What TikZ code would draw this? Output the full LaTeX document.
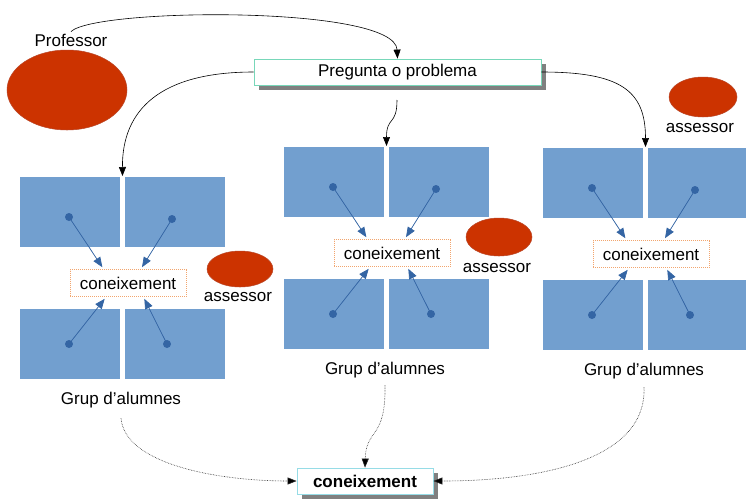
\documentclass[tikz,border=0pt]{standalone}
\usepackage{fontspec}
\setmainfont{Liberation Sans}
\usetikzlibrary{arrows.meta,shadows,calc,shapes.geometric}
\definecolor{bluefill}{RGB}{114,159,207}
\definecolor{bluedark}{RGB}{52,101,164}
\definecolor{redfill}{RGB}{204,51,0}
\definecolor{redline}{RGB}{185,70,40}
\definecolor{tealline}{RGB}{120,215,185}
\definecolor{cyanline}{RGB}{150,220,230}
\definecolor{orangeline}{RGB}{242,165,110}
\definecolor{shadowgray}{RGB}{128,128,128}
\tikzset{
  txt/.style={font=\fontsize{17}{20}\selectfont, inner sep=2pt},
  bluebox/.style={fill=bluefill, draw=none, anchor=north west, minimum width=100pt, minimum height=70pt, inner sep=0pt, outer sep=0pt},
  knowbox/.style={txt, draw=orangeline, dash pattern=on 1pt off 1pt, line width=0.6pt, fill=white, minimum width=116pt, minimum height=27pt, inner sep=0pt},
  dotnode/.style={circle, fill=bluedark, minimum size=8pt, inner sep=0pt},
  bluearrow/.style={draw=bluedark, line width=0.7pt, -{Triangle[length=10pt,width=8pt]}, fill=bluedark},
  blackarrow/.style={draw=black, line width=0.6pt, -{Triangle[length=9pt,width=7pt]}},
  dotarrow/.style={draw=black!85, line width=0.6pt, densely dotted, -{Triangle[length=9pt,width=7pt,fill=black]}},
  redell/.style={ellipse, fill=redfill, draw=redline, line width=0.5pt, inner sep=0pt},
  mainbox/.style={txt, fill=white, line width=0.8pt, drop shadow={shadow xshift=5pt, shadow yshift=-5pt, fill=shadowgray, opacity=1}},
}
\newcommand\studentgroup[3]{%
  \begin{scope}[shift={(#2,#3)}]
    \node[bluebox] (#1a) at (0,0) {};
    \node[bluebox] (#1b) at (105,0) {};
    \node[bluebox] (#1c) at (0,132) {};
    \node[bluebox] (#1d) at (105,132) {};
    \coordinate (#1in) at (102.5,-1);
    \node[knowbox] (#1k) at (108,106) {coneixement};
    \node[dotnode] (#1p) at (49,40) {};
    \node[dotnode] (#1q) at (152,42) {};
    \node[dotnode] (#1r) at (49,167) {};
    \node[dotnode] (#1s) at (147,167) {};
    \node[txt] (#1l) at (101,223) {Grup d’alumnes};
    \draw[bluearrow] (#1p.center) -- ($(#1k.north west)!0.28!(#1k.north east)+(0,-2)$);
    \draw[bluearrow] (#1q.center) -- ($(#1k.north west)!0.62!(#1k.north east)+(0,-2)$);
    \draw[bluearrow] (#1r.center) -- ($(#1k.south west)!0.30!(#1k.south east)+(0,2)$);
    \draw[bluearrow] (#1s.center) -- ($(#1k.south west)!0.64!(#1k.south east)+(0,2)$);
  \end{scope}}
\begin{document}
\begin{tikzpicture}[x=1pt,y=-1pt]
  \useasboundingbox (0,0) rectangle (746,499);
  \fill[white] (0,0) rectangle (746,499);

  % professor
  \node[redell, minimum width=120pt, minimum height=80pt] (prof) at (67,90) {};
  \node[txt] (proflabel) at (71,40) {Professor};

  % question box
  \node[mainbox, draw=tealline, minimum width=287pt, minimum height=26pt] (preg) at (397.5,72) {Pregunta o problema};

  % groups
  \studentgroup{L}{20}{177}
  \studentgroup{M}{284}{147}
  \studentgroup{R}{543}{148}

  % assessors
  \node[redell, minimum width=66pt, minimum height=36pt] (ass1) at (240,269) {};
  \node[txt] (ass1l) at (238,297) {assessor};
  \node[redell, minimum width=66pt, minimum height=38pt] (ass2) at (499,237) {};
  \node[txt] (ass2l) at (497,268) {assessor};
  \node[redell, minimum width=68pt, minimum height=40pt] (ass3) at (703,97) {};
  \node[txt] (ass3l) at (700,128) {assessor};

  % final knowledge box
  \node[mainbox, draw=cyanline, font=\fontsize{17}{20}\selectfont\bfseries, minimum width=136pt, minimum height=26pt] (final) at (365,481) {coneixement};

  % connectors
  \draw[blackarrow] (proflabel.north) .. controls (95,8) and (395,5) .. (preg.north);
  \draw[blackarrow] (preg.west) .. controls (160,72) and (122,110) .. (Lin);
  \coordinate (pregb) at (397,100);
  \draw[blackarrow] (pregb) .. controls (397,126) and (386.5,116) .. (Min);
  \draw[blackarrow] (preg.east) .. controls (620,72) and (645.5,90) .. (Rin);

  \coordinate (Lout) at ($(Ll.south)+(0,8)$);
  \coordinate (Mout) at ($(Ml.south)+(0,5)$);
  \coordinate (Rout) at ($(Rl.south)+(0,6)$);
  \draw[dotarrow] (Lout) .. controls (125,465) and (220,481) .. (final.west);
  \draw[dotarrow] (Mout) .. controls (386,440) and (366,428) .. (final.north);
  \draw[dotarrow] (Rout) .. controls (647,460) and (540,481) .. (final.east);
\end{tikzpicture}
\end{document}
